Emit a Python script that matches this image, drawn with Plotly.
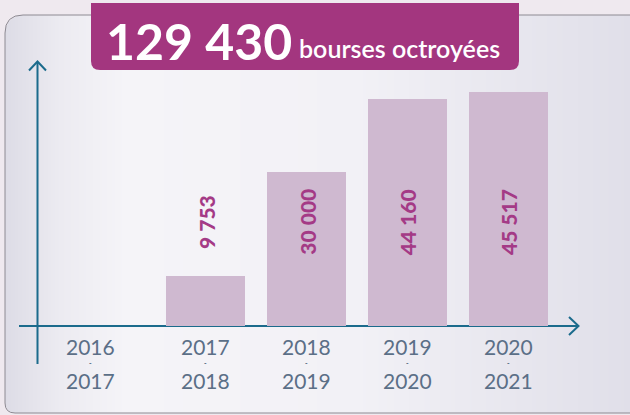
import base64, struct, zlib
import plotly.graph_objects as go

# ---------------- data ----------------
categories = ["2016-2017", "2017-2018", "2018-2019", "2019-2020", "2020-2021"]
label_top = ["2016", "2017", "2018", "2019", "2020"]
label_bottom = ["2017", "2018", "2019", "2020", "2021"]
bourses = [None, 9753, 30000, 44160, 45517]
value_text = ["", "9 753", "30 000", "44 160", "45 517"]
total_text = "129 430"
title_text = "bourses octroyées"

# ---------------- geometry / style ----------------
W, H = 630, 415
ML, MR, MT, MB = 37, 52, 61, 89
PW, PH = W - ML - MR, H - MT - MB

def px(x):
    return (x - ML) / PW

def py(y):
    return (H - MB - y) / PH

BAR = "#cfb9d0"
MAG = "#a3367f"
AXIS = "#1b6b8c"
TXT = "#5b6f87"
OUTER = "#efe9ef"

# background gradient panel as a PNG (data URI)
def make_panel_png(w, h, r_tl, r_bl):
    stops = [(0, (221, 220, 230)), (55, (236, 235, 241)), (120, (245, 244, 248)),
             (350, (242, 241, 246)), (w - 1, (224, 223, 233))]
    def col(x):
        for (x0, c0), (x1, c1) in zip(stops[:-1], stops[1:]):
            if x0 <= x <= x1:
                t = (x - x0) / max(1, x1 - x0)
                return tuple(int(round(c0[i] + (c1[i] - c0[i]) * t)) for i in range(3))
        return stops[-1][1]
    cols = [col(x) for x in range(w)]
    raw = bytearray()
    for y in range(h):
        raw.append(0)
        for x in range(w):
            a = 255
            if x < r_tl and y < r_tl:
                d = ((r_tl - x - 0.5) ** 2 + (r_tl - y - 0.5) ** 2) ** 0.5
                a = int(max(0, min(1, r_tl - d + 0.5)) * 255)
            elif x < r_bl and y > h - 1 - r_bl:
                d = ((r_bl - x - 0.5) ** 2 + (y - (h - 1 - r_bl) - 0.5) ** 2) ** 0.5
                a = int(max(0, min(1, r_bl - d + 0.5)) * 255)
            c = cols[x]
            raw += bytes((c[0], c[1], c[2], a))
    def chunk(t, d):
        return struct.pack(">I", len(d)) + t + d + struct.pack(">I", zlib.crc32(t + d) & 0xffffffff)
    png = b"\x89PNG\r\n\x1a\n" + chunk(b"IHDR", struct.pack(">IIBBBBB", w, h, 8, 6, 0, 0, 0))
    png += chunk(b"IDAT", zlib.compress(bytes(raw), 9)) + chunk(b"IEND", b"")
    return "data:image/png;base64," + base64.b64encode(png).decode()

PX0, PY0, PX1, PY1 = 5, 15, 632, 413
panel_src = make_panel_png(PX1 - PX0, PY1 - PY0, 18, 10)

fig = go.Figure()
fig.add_trace(go.Bar(
    x=list(range(len(categories))), y=bourses, width=0.785,
    marker=dict(color=BAR, line=dict(width=0)),
    hovertext=categories, hoverinfo="text+y",
))

shapes = []
# panel border (rounded top-left and bottom-left)
r1, r2 = 18, 10
path = (f"M {px(PX1+5)},{py(PY0)} L {px(PX0+r1)},{py(PY0)} "
        f"Q {px(PX0)},{py(PY0)} {px(PX0)},{py(PY0+r1)} "
        f"L {px(PX0)},{py(PY1-r2)} Q {px(PX0)},{py(PY1)} {px(PX0+r2)},{py(PY1)} "
        f"L {px(PX1+5)},{py(PY1)}")
shapes.append(dict(type="path", xref="paper", yref="paper", path=path,
                   line=dict(color="#8d8a92", width=1), layer="below"))
# axes
shapes.append(dict(type="line", xref="paper", yref="paper", x0=px(19), x1=px(578),
                   y0=py(326), y1=py(326), line=dict(color=AXIS, width=2), layer="below"))
shapes.append(dict(type="line", xref="paper", yref="paper", x0=px(37.5), x1=px(37.5),
                   y0=py(364), y1=py(62), line=dict(color=AXIS, width=2)))
# arrow heads
shapes.append(dict(type="path", xref="paper", yref="paper",
                   path=f"M {px(569)},{py(317)} L {px(578.5)},{py(326)} L {px(569)},{py(335)}",
                   line=dict(color=AXIS, width=2)))
shapes.append(dict(type="path", xref="paper", yref="paper",
                   path=f"M {px(29)},{py(70.5)} L {px(37.5)},{py(61.5)} L {px(46)},{py(70.5)}",
                   line=dict(color=AXIS, width=2)))
# title box
bx0, bx1, by0, by1, br = 91, 519, 3, 70, 9
tpath = (f"M {px(bx0)},{py(by0)} L {px(bx1)},{py(by0)} L {px(bx1)},{py(by1-br)} "
         f"Q {px(bx1)},{py(by1)} {px(bx1-br)},{py(by1)} L {px(bx0+br)},{py(by1)} "
         f"Q {px(bx0)},{py(by1)} {px(bx0)},{py(by1-br)} Z")
shapes.append(dict(type="path", xref="paper", yref="paper", path=tpath,
                   fillcolor=MAG, line=dict(width=0)))

ann = []
ann.append(dict(text=f"<b>{total_text}</b>", xref="paper", yref="paper", x=px(104), y=py(41),
                xanchor="left", yanchor="middle", showarrow=False,
                font=dict(family="Lato", size=50, color="white")))
ann.append(dict(text=title_text, xref="paper", yref="paper", x=px(297), y=py(48),
                xanchor="left", yanchor="middle", showarrow=False,
                font=dict(family="Lato", size=25, color="white", weight=600)))
for i, (t, b) in enumerate(zip(label_top, label_bottom)):
    shift = -15 if i == 0 else 0
    ann.append(dict(text=t, x=i, xref="x", yref="paper", y=py(346), xshift=shift,
                    xanchor="center", yanchor="middle", showarrow=False,
                    font=dict(family="Lato", size=21, color=TXT)))
    ann.append(dict(text=b, x=i, xref="x", yref="paper", y=py(380), xshift=shift,
                    xanchor="center", yanchor="middle", showarrow=False,
                    font=dict(family="Lato", size=21, color=TXT)))
    ann.append(dict(text="<b>-</b>", x=i, xref="x", yref="paper", y=py(363), xshift=shift,
                    xanchor="center", yanchor="middle", showarrow=False,
                    font=dict(family="Lato", size=7, color="#4a5f78")))
for i, v in enumerate(value_text):
    if v:
        ann.append(dict(text=v, x=i, xref="x", yref="paper", y=py(222),
                        textangle=-90, xanchor="center", yanchor="middle", showarrow=False,
                        font=dict(family="Lato", size=21, color="#a43a86", weight=900)))

fig.update_layout(
    width=W, height=H, margin=dict(l=ML, r=MR, t=MT, b=MB),
    paper_bgcolor=OUTER, plot_bgcolor="rgba(0,0,0,0)",
    showlegend=False, bargap=0,
    xaxis=dict(range=[-0.678, 4.695], showgrid=False, zeroline=False, showline=False,
               showticklabels=False, ticks="", fixedrange=True),
    yaxis=dict(range=[0, 51500], showgrid=False, zeroline=False, showline=False,
               showticklabels=False, ticks="", fixedrange=True),
    shapes=shapes, annotations=ann,
    images=[dict(source=panel_src, xref="paper", yref="paper", x=px(PX0), y=py(PY0),
                 sizex=px(PX1) - px(PX0), sizey=py(PY0) - py(PY1), sizing="stretch",
                 xanchor="left", yanchor="top", layer="below")],
)

fig.write_html("out.html", config={"displayModeBar": False},
               post_script="document.body.style.margin='0';")
